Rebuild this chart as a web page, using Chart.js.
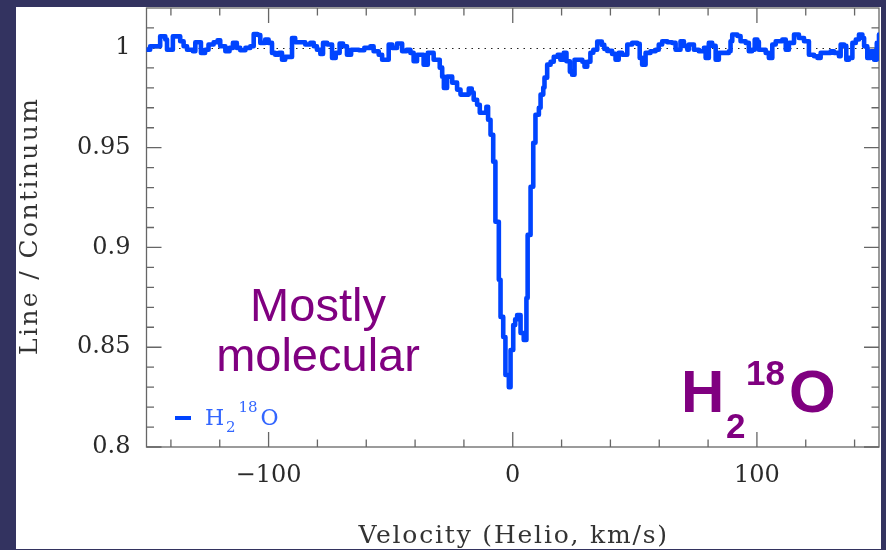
<!DOCTYPE html>
<html><head><meta charset="utf-8">
<script src="https://cdn.jsdelivr.net/npm/chart.js@4/dist/chart.umd.min.js"></script>
<style>html,body{margin:0;padding:0;background:#333360;}canvas{display:block}</style>
</head><body>
<canvas id="c" width="886" height="550"></canvas>
<script>
// ---- data (velocity in km/s, line/continuum ratio) ----
const velocity = [
 -150,-148.5,-144.4,-142.3,-141.6,-139.2,-136.2,-134.8,-133.4,-131.0,-130.0,-127.7,-126.0,-124.6,-122.5,-120.9,-119.8,-117.7,-116.0,-114.6,
 -113.0,-111.6,-109.5,-107.5,-106.1,-104.5,-103.4,-101.4,-100.0,-98.6,-97.3,-95.8,-94.5,-93.2,-90.4,-89.1,-85.0,-82.9,-81.5,-80.2,
 -78.8,-77.7,-76.0,-74.0,-72.5,-70.9,-69.5,-67.9,-66.2,-63.0,-60.8,-58.3,-57.0,-54.9,-53.5,-50.8,-49.4,-47.4,-45.3,-43.5,
 -41.9,-40.6,-39.2,-36.5,-34.8,-32.4,-29.9,-28.9,-28.2,-26.9,-24.8,-22.8,-21.4,-18.0,-16.8,-16.0,-14.6,-13.5,-10.8,-10.1,
 -9.1,-8.0,-7.1,-5.7,-5.0,-3.9,-3.0,-1.6,-0.9,0.2,1.0,1.8,3.2,4.5,5.6,6.1,7.3,8.4,9.3,10.7,
 11.4,12.5,13.0,14.1,15.5,16.8,18.4,19.5,20.9,22.0,23.4,24.3,25.3,28.5,29.4,30.5,31.8,33.0,34.6,36.5,
 37.5,38.7,40.7,42.1,43.4,44.8,46.9,48.9,51.0,52.0,53.0,54.4,56.4,58.5,59.8,61.2,63.3,65.3,66.7,68.7,
 70.1,71.5,72.1,74.2,76.2,78.3,79.0,80.3,81.7,83.1,84.4,86.5,88.5,89.2,89.9,92.0,93.3,95.4,96.7,98.0,
 99.1,100.2,100.8,103.6,104.9,106.3,107.7,110.4,111.8,113.1,115.2,117.2,119.3,121.3,123.4,124.8,126.1,128.2,130.2,131.6,
 133.6,134.3,135.7,136.6,137.7,139.1,140.5,141.8,143.2,143.9,145.2,146.6,148.0,149.1,150.0
];
const lineToContinuum = [
 0.9991,1.0008,1.0058,1.0042,0.9991,1.0058,1.0033,1.0008,0.9991,0.9983,1.0028,0.9975,0.9991,1.0017,1.0028,1.0038,1.0008,0.9983,1.0000,1.0025,
 1.0000,0.9988,1.0000,1.0008,1.0070,1.0065,1.0025,1.0042,1.0025,0.9975,0.9966,0.9975,0.9941,0.9955,1.0050,1.0028,1.0017,1.0025,1.0008,0.9991,
 0.9970,1.0025,1.0017,0.9950,0.9975,1.0022,1.0008,0.9966,0.9991,0.9988,1.0000,1.0008,0.9983,0.9966,0.9941,1.0017,1.0000,1.0022,0.9983,0.9991,
 0.9975,0.9933,0.9966,0.9916,0.9975,0.9941,0.9901,0.9856,0.9799,0.9856,0.9826,0.9791,0.9766,0.9796,0.9776,0.9740,0.9715,0.9675,0.9705,0.9640,
 0.9565,0.9430,0.9129,0.8838,0.8652,0.8551,0.8361,0.8300,0.8486,0.8611,0.8640,0.8661,0.8571,0.8536,0.8747,0.9063,0.9304,0.9525,0.9665,0.9700,
 0.9766,0.9801,0.9851,0.9916,0.9931,0.9956,0.9966,0.9941,0.9976,0.9933,0.9881,0.9866,0.9941,0.9931,0.9906,0.9931,0.9976,0.9991,1.0032,1.0015,
 0.9995,0.9985,0.9970,0.9941,0.9975,0.9966,1.0017,1.0025,1.0020,0.9950,0.9916,0.9975,0.9983,0.9991,1.0017,1.0033,1.0028,1.0025,0.9991,1.0033,
 1.0010,0.9991,1.0017,0.9991,0.9983,1.0000,0.9950,1.0025,1.0010,0.9941,0.9975,0.9975,0.9983,1.0033,1.0067,1.0060,1.0033,1.0025,0.9983,0.9991,
 1.0042,1.0030,0.9991,0.9975,0.9950,1.0017,1.0033,1.0042,0.9991,1.0025,1.0067,1.0050,1.0033,0.9966,0.9958,0.9950,0.9975,0.9975,0.9983,0.9975,
 0.9958,1.0017,1.0010,0.9941,0.9950,1.0025,1.0042,1.0067,1.0050,1.0008,0.9950,0.9983,0.9941,1.0025,1.0067
];
const seriesName = 'H₂¹⁸O';
const continuumLevel = 1;
const xRange = [-150, 150];
const yRange = [0.8, 1.02];
const xTickValues = [-100, 0, 100];
const xTickLabels = ['\u2212100', '0', '100'];
const xMinorTicks = [-140,-120,-80,-60,-40,-20,20,40,60,80,120,140];
const yTickValues = [0.8, 0.85, 0.9, 0.95, 1.0];
const yTickLabels = ['0.8', '0.85', '0.9', '0.95', '1'];
const yMinorTicks = [0.81,0.82,0.83,0.84,0.86,0.87,0.88,0.89,0.91,0.92,0.93,0.94,0.96,0.97,0.98,0.99,1.01];
const xTitle = 'Velocity (Helio, km/s)';
const yTitle = 'Line / Continuum';
const noteLines = ['Mostly', 'molecular'];

const points = velocity.map((v, i) => ({x: v, y: lineToContinuum[i]}));

const SERIF = '"DejaVu Serif", serif';
const SANS = '"Liberation Sans", Arial, sans-serif';

function spacedText(ctx, text, x, y, spacing, align) {
  ctx.letterSpacing = spacing + 'px';
  const w = ctx.measureText(text).width - spacing;
  let sx = x;
  if (align === 'center') sx = x - w / 2;
  ctx.textAlign = 'left';
  ctx.fillText(text, sx, y);
  ctx.letterSpacing = '0px';
}

const decor = {
  id: 'decor',
  beforeDraw(chart) {
    const ctx = chart.ctx;
    ctx.save();
    ctx.fillStyle = '#333360';
    ctx.fillRect(0, 0, chart.width, chart.height);
    ctx.fillStyle = '#ffffff';
    ctx.fillRect(16, 7, 865, 542);
    ctx.restore();
  },
  beforeDatasetsDraw(chart) {
    const {ctx, chartArea: a, scales: {x, y}} = chart;
    ctx.save();
    ctx.strokeStyle = '#222';
    ctx.lineWidth = 1;
    ctx.setLineDash([1.5, 5]);
    const yc = Math.round(y.getPixelForValue(continuumLevel)) + 0.5;
    ctx.beginPath(); ctx.moveTo(a.left, yc); ctx.lineTo(a.right, yc); ctx.stroke();
    ctx.setLineDash([]);
    ctx.strokeStyle = '#666';
    ctx.lineWidth = 1.3;
    ctx.strokeRect(a.left, a.top, a.right - a.left, a.bottom - a.top);
    ctx.beginPath();
    const seg = (x0, y0, x1, y1) => { ctx.moveTo(x0, y0); ctx.lineTo(x1, y1); };
    xTickValues.forEach(v => { const p = x.getPixelForValue(v); seg(p, a.bottom, p, a.bottom - 15); seg(p, a.top, p, a.top + 15); });
    xMinorTicks.forEach(v => { const p = x.getPixelForValue(v); seg(p, a.bottom, p, a.bottom - 7.5); seg(p, a.top, p, a.top + 7.5); });
    yTickValues.forEach(v => { const p = y.getPixelForValue(v); seg(a.left, p, a.left + 15, p); seg(a.right, p, a.right - 15, p); });
    yMinorTicks.forEach(v => { const p = y.getPixelForValue(v); seg(a.left, p, a.left + 7.5, p); seg(a.right, p, a.right - 7.5, p); });
    ctx.stroke();
    ctx.restore();
  },
  afterDraw(chart) {
    const {ctx, chartArea: a} = chart;
    ctx.save();
    ctx.fillStyle = '#333';
    ctx.textBaseline = 'alphabetic';
    ctx.font = '25px ' + SERIF;
    spacedText(ctx, xTitle, (a.left + a.right) / 2, 543, 1.8, 'center');
    ctx.save();
    ctx.translate(37, 227);
    ctx.rotate(-Math.PI / 2);
    spacedText(ctx, yTitle, 0, 0, 2.4, 'center');
    ctx.restore();

    ctx.fillStyle = '#800080';
    ctx.font = '47px ' + SANS;
    ctx.textAlign = 'center';
    ctx.fillText(noteLines[0], 318, 321);
    ctx.fillText(noteLines[1], 318, 371);

    ctx.textAlign = 'left';
    ctx.font = 'bold 60px ' + SANS;
    ctx.fillText('H', 681, 412);
    ctx.font = 'bold 35px ' + SANS;
    ctx.fillText('2', 726, 438);
    ctx.fillText('18', 746, 385);
    ctx.font = 'bold 60px ' + SANS;
    ctx.fillText('O', 789, 412);

    ctx.strokeStyle = '#0044ff';
    ctx.lineWidth = 4;
    ctx.beginPath(); ctx.moveTo(175, 418); ctx.lineTo(191, 418); ctx.stroke();
    ctx.fillStyle = '#3366ff';
    ctx.font = '22px ' + SERIF;
    ctx.fillText('H', 205, 425);
    ctx.font = '15px ' + SERIF;
    ctx.fillText('2', 226, 431.5);
    ctx.fillText('18', 238.5, 411.5);
    ctx.font = '22px ' + SERIF;
    ctx.fillText('O', 260.5, 425);
    ctx.restore();
  }
};

new Chart(document.getElementById('c'), {
  type: 'line',
  data: {
    datasets: [{
      label: seriesName,
      data: points,
      borderColor: '#0044ff',
      borderWidth: 4.6,
      stepped: true,
      pointRadius: 0,
      borderJoinStyle: 'round',
      borderCapStyle: 'round',
      fill: false
    }]
  },
  options: {
    responsive: false,
    animation: false,
    devicePixelRatio: 1,
    layout: {padding: {left: 16, top: 8, right: 7, bottom: 23}},
    plugins: {legend: {display: false}, tooltip: {enabled: false}},
    scales: {
      x: {
        type: 'linear', min: xRange[0], max: xRange[1],
        grid: {display: false, drawTicks: false}, border: {display: false},
        afterBuildTicks: s => { s.ticks = xTickValues.map(v => ({value: v})); },
        ticks: {
          padding: 14, maxRotation: 0, autoSkip: false, color: '#2a2a2a',
          font: {family: SERIF, size: 24},
          callback: (v, i) => xTickLabels[i]
        },
        afterFit: s => { s.height = 80; s.paddingLeft = 0; s.paddingRight = 0; }
      },
      y: {
        type: 'linear', min: yRange[0], max: yRange[1],
        grid: {display: false, drawTicks: false}, border: {display: false},
        afterBuildTicks: s => { s.ticks = yTickValues.map(v => ({value: v})); },
        ticks: {
          padding: 16, autoSkip: false, color: '#2a2a2a',
          font: {family: SERIF, size: 24},
          callback: (v, i) => yTickLabels[i]
        },
        afterFit: s => { s.width = 130.5; s.paddingTop = 0; s.paddingBottom = 0; }
      }
    }
  },
  plugins: [decor]
});
</script>
</body></html>
